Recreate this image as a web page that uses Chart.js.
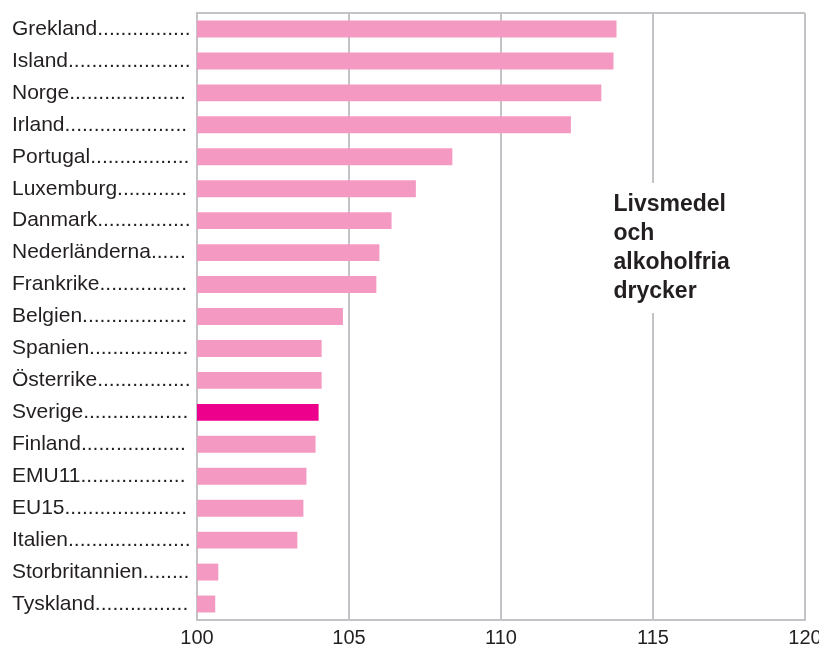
<!DOCTYPE html>
<html>
<head>
<meta charset="utf-8">
<script src="https://cdn.jsdelivr.net/npm/chart.js@4"></script>
<style>
  html, body { margin: 0; padding: 0; background: #fff; }
  #wrap { width: 819px; height: 651px; }
</style>
</head>
<body>
<div id="wrap"><canvas id="foodChart"></canvas></div>
<script>
const countries = ["Grekland", "Island", "Norge", "Irland", "Portugal", "Luxemburg", "Danmark",
    "Nederländerna", "Frankrike", "Belgien", "Spanien", "Österrike", "Sverige", "Finland",
    "EMU11", "EU15", "Italien", "Storbritannien", "Tyskland"];
const values = [113.8, 113.7, 113.3, 112.3, 108.4, 107.2, 106.4, 106.0, 105.9, 104.8,
    104.1, 104.1, 104.0, 103.9, 103.6, 103.5, 103.3, 100.7, 100.6];
const xTicks = [100, 105, 110, 115, 120];
const highlight = "Sverige";
const noteLines = ["Livsmedel", "och", "alkoholfria", "drycker"];

const gridGrey = "#c3c3c7";
const textColor = "#231f20";
const fontFam = "'Liberation Sans', Arial, sans-serif";
const labelFont = "21px " + fontFam;

// measure context for dotted leaders
const mctx = document.createElement("canvas").getContext("2d");
mctx.font = labelFont;
function withDots(name) {
    let s = name;
    while (mctx.measureText(s + ".").width <= 179) s += ".";
    return s;
}

// frame on top + annotation box
const extras = {
    id: "extras",
    afterDatasetsDraw(chart) {
        const { ctx, chartArea: a } = chart;
        ctx.save();
        ctx.strokeStyle = gridGrey;
        ctx.lineWidth = 2;
        ctx.beginPath();
        ctx.moveTo(a.left, a.top);
        ctx.lineTo(a.right, a.top);
        ctx.stroke();

        const x = chart.scales.x.getPixelForValue(113.7);
        const y0 = a.top + 170;
        ctx.fillStyle = "#fff";
        ctx.fillRect(x - 10, y0, 140, 130);
        ctx.fillStyle = textColor;
        ctx.font = "bold 23px " + fontFam;
        ctx.textBaseline = "middle";
        noteLines.forEach((t, i) => ctx.fillText(t, x, y0 + 22 + i * 29));
        ctx.restore();
    }
};

new Chart(document.getElementById("foodChart"), {
    type: "bar",
    data: {
        labels: countries,
        datasets: [{
            data: values.map(v => [100, v]),
            backgroundColor: countries.map(c => c === highlight ? "#ec008c" : "#f49ac2"),
            barPercentage: 0.53,
            categoryPercentage: 1
        }]
    },
    options: {
        indexAxis: "y",
        responsive: true,
        maintainAspectRatio: false,
        animation: false,
        layout: { padding: { top: 13, right: 14, left: 12, bottom: 0 } },
        plugins: { legend: { display: false }, tooltip: { enabled: false } },
        scales: {
            x: {
                min: 100,
                max: 120,
                afterBuildTicks: s => { s.ticks = xTicks.map(v => ({ value: v })); },
                afterFit: s => { s.height = 31; s.paddingLeft = 0; s.paddingRight = 0; },
                grid: { color: gridGrey, lineWidth: 2, drawTicks: false },
                border: { color: gridGrey, width: 2 },
                ticks: {
                    padding: 6,
                    color: textColor,
                    font: { family: fontFam, size: 20 }
                }
            },
            y: {
                afterFit: s => { s.width = 185; s.paddingTop = 0; s.paddingBottom = 0; },
                grid: { display: false, drawTicks: false },
                border: { color: gridGrey, width: 2 },
                ticks: {
                    crossAlign: "far",
                    padding: 6,
                    color: textColor,
                    font: { family: fontFam, size: 21 },
                    callback: function (v, i) { return withDots(countries[i]); }
                }
            }
        }
    },
    plugins: [extras]
});
</script>
</body>
</html>
